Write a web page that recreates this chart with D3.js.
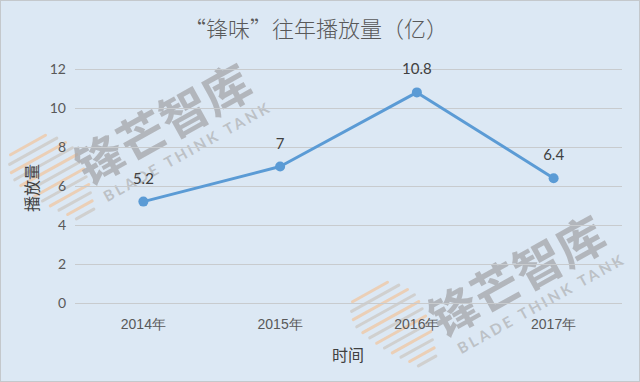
<!DOCTYPE html>
<html lang="zh">
<head>
<meta charset="UTF-8">
<title>锋味 往年播放量</title>
<script src="https://d3js.org/d3.v7.min.js"></script>
<style>
  body { margin: 0; background: #fff; }
  svg { display: block; font-family: Lato, "Noto Sans CJK SC", sans-serif; }
  .tick text { fill: #595959; font-size: 14px; }
</style>
</head>
<body>
<script>
// data
const years = ['2014年', '2015年', '2016年', '2017年'];
const plays = [5.2, 7, 10.8, 6.4];
const yTicks = [0, 2, 4, 6, 8, 10, 12];

const W = 640, H = 382;
const plotL = 75, plotR = 622, plotT = 69, plotB = 303;

const svg = d3.select('body').append('svg')
    .attr('width', W).attr('height', H);

svg.append('rect')
    .attr('x', 0.5).attr('y', 0.5)
    .attr('width', W - 1).attr('height', H - 1)
    .attr('fill', '#dce8f4')
    .attr('stroke', '#c4c8cc');

const x = d3.scaleBand().domain(years).range([plotL, plotR]);
const y = d3.scaleLinear().domain([0, 12]).range([plotB, plotT]);

// watermark logo + text, under the chart
function stripes(g) {
    const lens = [40, 54, 62, 66, 64, 60, 56, 50, 44, 36, 28, 20];
    lens.forEach((len, i) => {
        g.append('line')
            .attr('x1', -len / 2 + i * 1.5).attr('x2', len / 2 + i * 1.5)
            .attr('y1', i * 8).attr('y2', i * 8)
            .attr('stroke', i % 2 ? '#cdc9c6' : '#efc8a6')
            .attr('stroke-opacity', 0.8)
            .attr('stroke-width', 3)
            .attr('stroke-linecap', 'round');
    });
}
function watermark(cx, cy, lx, ly) {
    const s = svg.append('g').attr('transform', `translate(${lx},${ly}) rotate(-29)`);
    stripes(s);
    const g = svg.append('g').attr('transform', `translate(${cx},${cy}) rotate(-29)`);
    g.append('text')
        .attr('text-anchor', 'middle')
        .attr('font-size', 48).attr('font-weight', 700)
        .attr('font-family', '"Noto Sans CJK SC", sans-serif')
        .attr('fill', '#a4a6a9').attr('fill-opacity', 0.75)
        .text('锋芒智库');
    g.append('text')
        .attr('y', 23).attr('x', 8)
        .attr('text-anchor', 'middle')
        .attr('font-size', 15).attr('font-weight', 700)
        .attr('letter-spacing', 3)
        .attr('fill', '#b4b7ba').attr('fill-opacity', 0.8)
        .text('BLADE THINK TANK');
}
watermark(172, 140, 28, 145);
watermark(526, 292, 370, 292);

// gridlines + y labels
svg.append('g')
    .attr('transform', `translate(${plotL},0)`)
    .call(d3.axisLeft(y).tickValues(yTicks).tickSize(-(plotR - plotL)).tickPadding(9))
    .call(g => g.select('.domain').remove())
    .call(g => g.selectAll('.tick line').attr('stroke', '#c8cbce'))
    .call(g => g.selectAll('.tick text').attr('font-family', 'Lato, sans-serif'));

// x labels
svg.append('g')
    .attr('transform', `translate(0,${plotB})`)
    .call(d3.axisBottom(x).tickSize(0).tickPadding(16))
    .call(g => g.select('.domain').remove());

// line
const data = years.map((c, i) => ({ c, v: plays[i] }));
svg.append('path')
    .datum(data)
    .attr('fill', 'none')
    .attr('stroke', '#5b9bd5')
    .attr('stroke-width', 3)
    .attr('stroke-linejoin', 'round')
    .attr('d', d3.line().x(d => x(d.c) + x.bandwidth() / 2).y(d => y(d.v)));

svg.selectAll('circle.pt')
    .data(data)
    .join('circle')
    .attr('class', 'pt')
    .attr('cx', d => x(d.c) + x.bandwidth() / 2)
    .attr('cy', d => y(d.v))
    .attr('r', 5)
    .attr('fill', '#5b9bd5');

svg.selectAll('text.lbl')
    .data(data)
    .join('text')
    .attr('class', 'lbl')
    .attr('x', d => x(d.c) + x.bandwidth() / 2)
    .attr('y', d => y(d.v) - 18)
    .attr('text-anchor', 'middle')
    .attr('font-size', 15)
    .attr('fill', '#404040')
    .text(d => d.v);

// titles
svg.append('text')
    .attr('x', 316).attr('y', 37)
    .attr('text-anchor', 'middle')
    .attr('font-size', 22)
    .attr('font-family', '"Noto Sans CJK SC", sans-serif')
    .attr('font-weight', 300)
    .attr('fill', '#595959')
    .text('“锋味”往年播放量（亿）');

svg.append('text')
    .attr('transform', 'translate(38,188) rotate(-90)')
    .attr('text-anchor', 'middle')
    .attr('font-size', 16)
    .attr('font-family', '"Noto Sans CJK SC", sans-serif')
    .attr('fill', '#404040')
    .text('播放量');

svg.append('text')
    .attr('x', 348).attr('y', 361)
    .attr('text-anchor', 'middle')
    .attr('font-size', 16)
    .attr('font-family', '"Noto Sans CJK SC", sans-serif')
    .attr('fill', '#404040')
    .text('时间');
</script>
</body>
</html>
